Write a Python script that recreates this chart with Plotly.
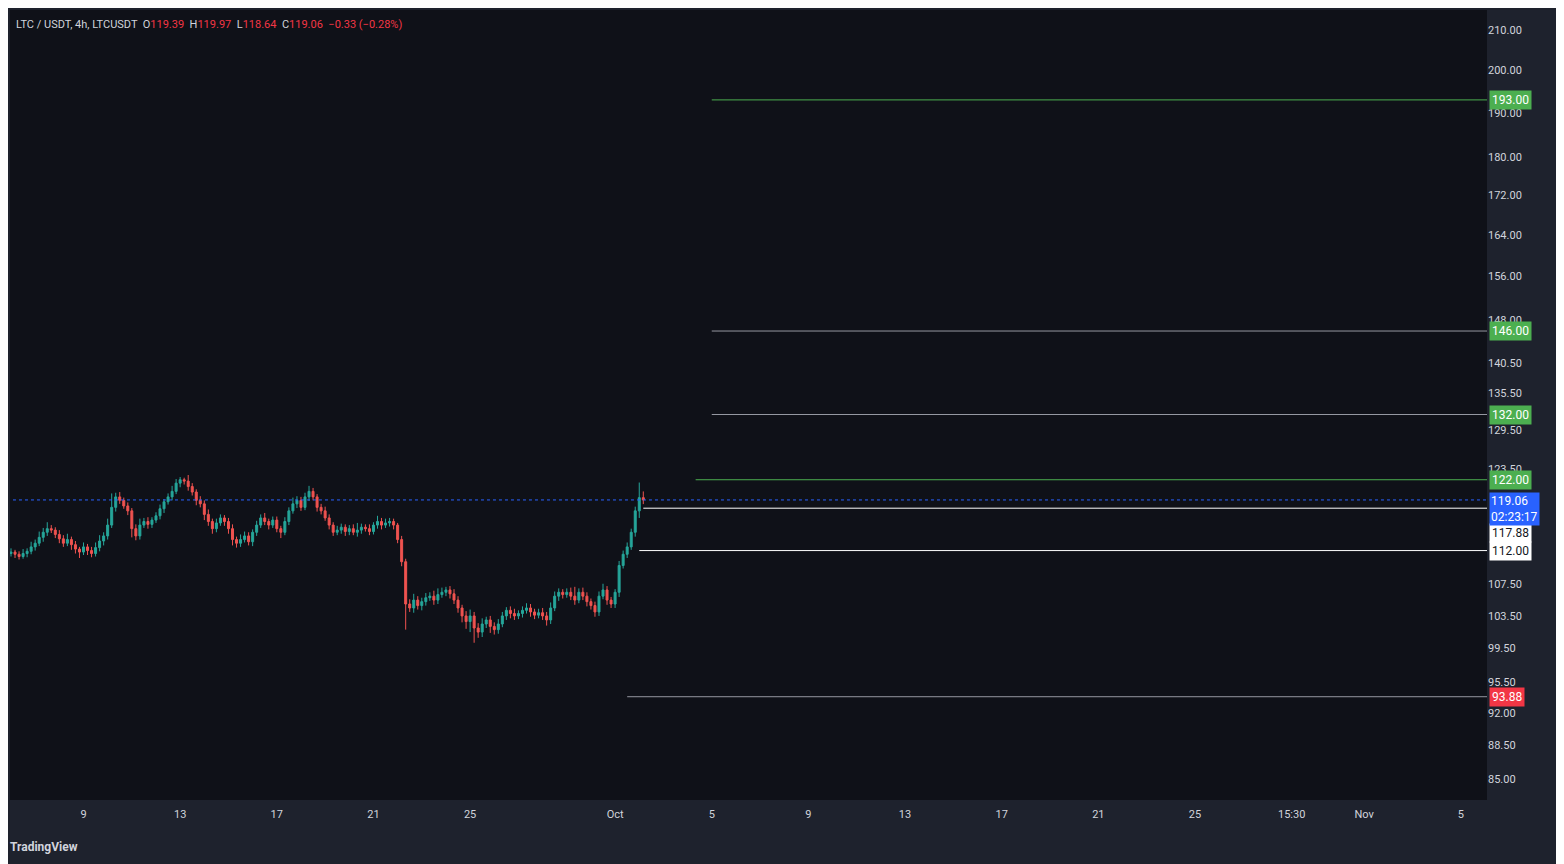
import math
import pandas as pd
import plotly.graph_objects as go

# 4h candles, LTC/USDT, Sep 6 00:00 -> Oct 2 04:00
closes = [
    111.8, 111.5, 111.2, 111.6, 111.9, 112.5,
    113.0, 113.8, 114.5, 115.0, 114.8, 114.2,
    113.6, 113.0, 113.5, 112.8, 112.2, 111.8,
    112.5, 112.0, 111.6, 112.4, 113.3, 114.0,
    115.5, 118.0, 119.5, 119.0, 118.2, 117.5,
    115.0, 114.0, 115.5, 116.0, 115.6, 116.2,
    116.8, 117.8, 118.8, 119.5, 120.3, 121.5,
    122.0, 121.8, 121.0, 120.2, 119.0, 118.5,
    117.0, 116.0, 115.0, 115.8, 116.5, 116.0,
    115.0, 113.5, 113.0, 113.5, 114.0, 113.2,
    114.5, 115.5, 116.5, 116.0, 115.5, 116.2,
    115.0, 114.5, 116.0, 117.5, 118.5, 119.0,
    118.0, 119.5, 120.3, 119.5, 118.0, 117.5,
    116.5, 115.5, 114.5, 114.8, 115.2, 114.6,
    115.0, 114.5, 114.8, 115.2, 115.0, 114.6,
    115.5, 116.0, 115.5, 115.8, 116.0, 115.5,
    113.5, 110.5, 105.0, 104.5, 105.5, 104.8,
    105.3, 105.8, 106.0, 105.5, 106.2, 106.5,
    106.8, 106.3, 105.5, 104.5, 103.5, 102.8,
    103.5, 102.0, 101.5, 102.5, 103.0, 102.2,
    101.8, 102.5, 103.5, 104.2, 103.8, 103.5,
    103.8, 104.2, 104.5, 104.0, 103.6, 103.9,
    103.5, 103.0, 104.5, 106.0, 106.5, 106.2,
    106.5, 106.0, 105.5, 106.5, 106.0, 105.3,
    104.8, 104.0, 106.0, 106.8, 105.5, 105.0,
    106.5, 110.0, 111.5, 112.5, 114.5, 117.5,
    119.39, 119.06,
]
up_wick = [
    0.5, 0.3, 0.4, 0.6, 0.4, 0.7,
    0.5, 0.8, 0.6, 0.9, 0.5, 0.4,
    0.6, 0.5, 0.8, 0.4, 0.5, 0.3,
    0.6, 0.4, 0.5, 0.7, 0.8, 0.5,
    0.9, 2.0, 0.6, 0.7, 0.4, 0.5,
    0.4, 0.6, 0.9, 0.5, 0.6, 0.4,
    0.5, 0.6, 0.4, 0.5, 0.8, 0.6,
    0.4, 0.3, 0.9, 0.5, 0.4, 0.6,
    0.5, 0.7, 0.4, 0.6, 0.5, 0.4,
    0.5, 0.6, 0.4, 0.7, 0.6, 0.5,
    0.4, 0.6, 0.5, 0.7, 0.4, 0.5,
    0.5, 0.4, 0.6, 0.5, 0.9, 0.6,
    0.5, 0.6, 0.8, 0.5, 0.4, 0.5,
    0.6, 0.5, 0.4, 0.6, 0.5, 0.4,
    0.5, 0.6, 1.0, 0.5, 0.4, 0.6,
    0.4, 0.8, 0.5, 0.6, 0.5, 0.4,
    0.3, 0.5, 0.4, 0.6, 0.8, 0.5,
    0.5, 0.6, 0.5, 0.7, 0.8, 0.6,
    0.4, 0.5, 0.6, 0.5, 0.4, 0.6,
    0.8, 0.5, 0.6, 0.7, 0.4, 0.5,
    0.5, 0.6, 0.5, 0.4, 0.5, 0.6,
    0.4, 0.5, 0.6, 0.5, 0.4, 0.5,
    0.6, 0.5, 0.7, 0.6, 0.5, 0.4,
    0.5, 0.6, 1.2, 0.5, 0.6, 0.5,
    0.4, 0.5, 0.6, 0.8, 0.5, 0.4,
    0.4, 0.6, 0.5, 0.6, 0.5, 0.6,
    2.2, 0.9,
]
down_wick = [
    0.4, 0.5, 0.4, 0.3, 0.5, 0.4,
    0.5, 0.4, 0.6, 0.5, 0.4, 0.5,
    0.6, 0.5, 0.4, 0.7, 0.6, 0.8,
    0.4, 0.6, 0.5, 0.4, 0.5, 0.6,
    0.5, 0.4, 0.6, 0.5, 0.4, 0.6,
    1.2, 0.6, 0.5, 0.4, 0.6, 0.5,
    0.4, 0.5, 0.6, 0.4, 0.5, 0.4,
    0.6, 0.5, 0.6, 0.5, 0.7, 0.5,
    0.8, 0.6, 0.7, 0.5, 0.4, 0.6,
    0.7, 0.8, 0.6, 0.5, 0.4, 0.5,
    0.6, 0.5, 0.4, 0.5, 0.6, 0.4,
    0.5, 0.8, 0.4, 0.5, 0.4, 0.6,
    0.5, 0.4, 0.6, 0.5, 0.6, 0.5,
    0.4, 0.6, 0.5, 0.4, 0.5, 0.6,
    0.5, 0.4, 0.6, 0.5, 0.4, 0.5,
    0.4, 0.5, 0.6, 0.4, 0.5, 0.6,
    0.5, 0.6, 3.2, 0.5, 0.6, 0.5,
    0.6, 0.5, 0.4, 0.6, 0.5, 0.4,
    0.5, 0.6, 0.5, 0.6, 0.8, 0.9,
    1.3, 1.8, 0.7, 0.6, 0.5, 0.8,
    0.6, 0.5, 0.4, 0.5, 0.6, 0.5,
    0.4, 0.5, 0.4, 0.6, 0.5, 0.4,
    0.5, 0.7, 0.5, 0.4, 0.6, 0.5,
    0.4, 0.5, 0.6, 0.4, 0.5, 0.6,
    0.5, 0.6, 0.5, 0.4, 0.6, 0.5,
    0.5, 0.6, 0.4, 0.5, 0.4, 0.6,
    1.0, 0.6,
]
opens = [111.6] + closes[:-1]
highs = [max(o, c) + w for o, c, w in zip(opens, closes, up_wick)]
lows = [min(o, c) - w for o, c, w in zip(opens, closes, down_wick)]
times = pd.date_range("2024-09-06 00:00", periods=len(closes), freq="4h")

# horizontal levels: (price, start time, color, label bg, label text color, label shift)
levels = [
    (193.00, "2024-10-05 00:00", "#4caf50", "#4caf50", "#ffffff", 0),
    (146.00, "2024-10-05 00:00", "#9598a1", "#4caf50", "#ffffff", 0),
    (132.00, "2024-10-05 00:00", "#9598a1", "#4caf50", "#ffffff", 0),
    (122.00, "2024-10-04 08:00", "#4caf50", "#4caf50", "#ffffff", 0),
    (117.88, "2024-10-02 04:00", "#ffffff", "#ffffff", "#131722", -25),
    (112.00, "2024-10-02 00:00", "#ffffff", "#ffffff", "#131722", 0),
    (93.88, "2024-10-01 12:00", "#9598a1", "#f23645", "#ffffff", 0),
]
last_price = 119.06
x_end = "2024-11-06 02:00"

ytick_vals = [85, 88.5, 92, 95.5, 99.5, 103.5, 107.5, 123.5, 129.5, 135.5,
              140.5, 148, 156, 164, 172, 180, 190, 200, 210]
xtick_vals = ["2024-09-09", "2024-09-13", "2024-09-17", "2024-09-21", "2024-09-25",
              "2024-10-01", "2024-10-05", "2024-10-09", "2024-10-13", "2024-10-17",
              "2024-10-21", "2024-10-25", "2024-10-29", "2024-11-01", "2024-11-05"]
xtick_text = ["9", "13", "17", "21", "25", "Oct", "5", "9", "13", "17", "21", "25",
              "15:30", "Nov", "5"]

BG = "#0f1118"
fig = go.Figure()
fig.add_trace(go.Candlestick(
    x=times, open=opens, high=highs, low=lows, close=closes,
    increasing=dict(line=dict(color="#26a69a", width=1), fillcolor="#26a69a"),
    decreasing=dict(line=dict(color="#ef5350", width=1), fillcolor="#ef5350"),
    whiskerwidth=0, hoverinfo="skip", showlegend=False,
))
fig.add_trace(go.Scatter(x=[times[0] - pd.Timedelta(hours=4), x_end], y=[last_price, last_price],
                         mode="lines", line=dict(color="#2962ff", width=1, dash="dot"),
                         hoverinfo="skip", showlegend=False))
for price, start, col, bg, fc, shift in levels:
    fig.add_trace(go.Scatter(x=[start, x_end], y=[price, price], mode="lines",
                             line=dict(color=col, width=1), hoverinfo="skip", showlegend=False))
    fig.add_annotation(x=1.0, xref="paper", y=math.log10(price), yref="y", xanchor="left",
                       xshift=2, yshift=shift, text=f"{price:.2f}", showarrow=False, bgcolor=bg,
                       font=dict(color=fc, size=12), borderpad=2)
fig.add_annotation(x=1.0, xref="paper", y=math.log10(last_price), yref="y", xanchor="left",
                   yanchor="top", yshift=8, xshift=2, text="119.06<br>02:23:17", showarrow=False,
                   bgcolor="#2962ff", font=dict(color="#ffffff", size=12), borderpad=1, align="left")

fig.add_annotation(
    x=0, y=1, xref="paper", yref="paper", xanchor="left", yanchor="top", xshift=4, yshift=-6,
    showarrow=False, font=dict(size=11, color="#d1d4dc"),
    text=("LTC / USDT, 4h, LTCUSDT  O<span style='color:#f23645'>119.39</span>  "
          "H<span style='color:#f23645'>119.97</span>  L<span style='color:#f23645'>118.64</span>  "
          "C<span style='color:#f23645'>119.06</span>  <span style='color:#f23645'>−0.33 (−0.28%)</span>"))
fig.add_annotation(x=0, y=0, xref="paper", yref="paper", xanchor="left", yanchor="top",
                   xshift=-2, yshift=-38, showarrow=False, text="<b>TradingView</b>",
                   font=dict(size=12, color="#d1d4dc"))

fig.update_layout(
    width=1556, height=856, paper_bgcolor="#1e222d", plot_bgcolor=BG,
    margin=dict(l=2, r=77, t=2, b=64),
    font=dict(family="Roboto, Arial", color="#d1d4dc", size=11),
    xaxis=dict(range=["2024-09-05 23:00", x_end], rangeslider=dict(visible=False),
               tickvals=xtick_vals, ticktext=xtick_text, showgrid=False, zeroline=False,
               showline=False, ticks="", ticklabelstandoff=6,
               tickfont=dict(size=11, color="#d1d4dc")),
    yaxis=dict(type="log", side="right", range=[1.91841, 2.3327],
               tickvals=ytick_vals, ticktext=[f"{v:.2f}" for v in ytick_vals],
               showgrid=False, zeroline=False, ticks="", tickfont=dict(size=11, color="#d1d4dc")),
)
fig.write_html("out.html")
